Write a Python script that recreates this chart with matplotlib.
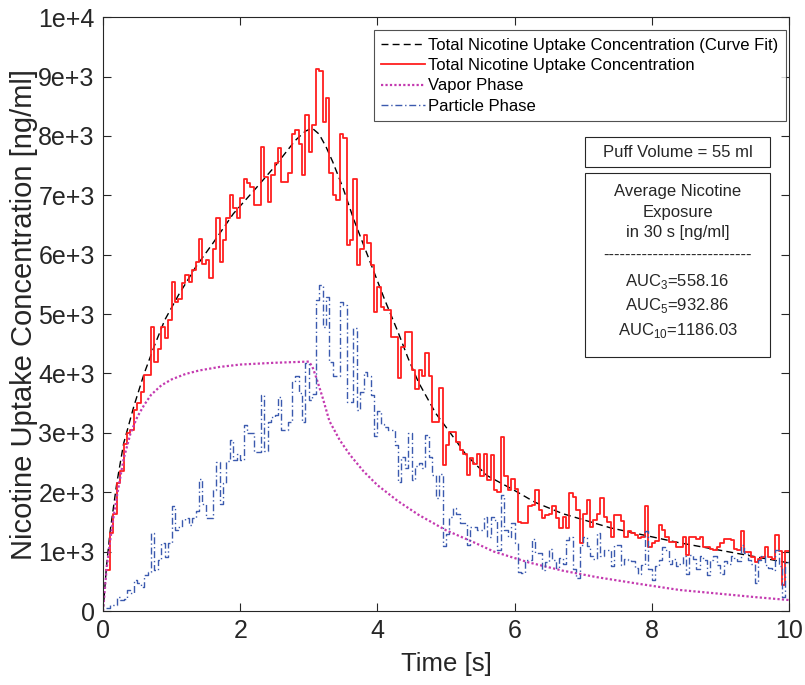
import numpy as np
import matplotlib
matplotlib.use("Agg")
import matplotlib.pyplot as plt
from matplotlib.patches import Rectangle

plt.rcParams['font.family'] = ['Liberation Sans', 'DejaVu Sans']

# measured total uptake (step data, 0.05 s bins)
total_conc = [
    690, 1310, 1640, 2150, 2350, 2820, 2990, 3050, 3390, 3500,
    3690, 3970, 3970, 4790, 4200, 4420, 4790, 4590, 4900, 5540,
    5210, 5260, 5520, 5660, 5540, 5740, 5880, 6270, 5850, 5910,
    5600, 6100, 6610, 5880, 6250, 6610, 7000, 6780, 6610, 6950,
    7280, 7200, 7140, 6840, 6840, 7820, 7310, 6890, 7340, 7540,
    7790, 7230, 7230, 7370, 8040, 8100, 7870, 7340, 8350, 7730,
    8180, 9130, 9100, 8240, 8630, 7370, 7000, 6920, 8040, 7960,
    6160, 6250, 7280, 5830, 6100, 6330, 6190, 5830, 5040, 5460,
    5120, 5070, 5070, 4620, 4620, 3920, 4450, 4700, 4700, 4050,
    3740, 4050, 3950, 4340, 3950, 3190, 3190, 3750, 2460, 2800,
    3020, 3020, 2850, 2710, 2650, 2290, 2570, 2480, 2650, 2270,
    2650, 2200, 2620, 2040, 2000, 2930, 2270, 2040, 2230, 2060,
    1500, 1480, 1480, 1760, 1780, 2040, 1700, 1560, 1620, 1640,
    1760, 1560, 1390, 1590, 1390, 1980, 1920, 1700, 1140, 1640,
    1870, 1420, 1530, 1640, 1900, 1590, 1500, 1250, 1620, 1620,
    1520, 1240, 1350, 1310, 1280, 1230, 1250, 1770, 1080, 1140,
    1180, 1440, 1360, 1250, 1170, 1170, 1080, 1080, 1250, 940,
    1250, 1250, 1220, 1250, 1080, 1080, 1050, 1020, 1080, 1140,
    1220, 1220, 1190, 1050, 1020, 1340, 990, 990, 910, 830,
    880, 910, 1080, 910, 880, 1280, 1010, 440, 1010, 1010,
]

# particle phase (step data, same bins)
particle_conc = [
    50, 100, 100, 240, 180, 200, 350, 300, 520, 470,
    400, 600, 660, 1310, 690, 860, 1140, 915, 1140, 1760,
    1360, 1420, 1530, 1560, 1450, 1560, 1680, 2230, 1810, 1560,
    1560, 2040, 2510, 1810, 2150, 2520, 2880, 2540, 2650, 2540,
    3130, 2990, 2990, 2680, 2680, 3640, 2700, 3190, 3270, 3300,
    3610, 3050, 3050, 3190, 3860, 3950, 3670, 3190, 4170, 3550,
    3660, 5240, 5490, 4790, 5290, 4200, 3950, 3950, 5210, 5150,
    3520, 3520, 4760, 3380, 3690, 4030, 3950, 3640, 2940, 3360,
    3150, 3100, 3050, 3050, 2800, 2180, 2600, 2400, 2990, 2200,
    2450, 2500, 2400, 2960, 2600, 2290, 1900, 2300, 1100, 1300,
    1590, 1730, 1640, 1480, 1480, 1110, 1420, 1420, 1360, 1360,
    1590, 1250, 1590, 1530, 1030, 1950, 1360, 1250, 1480, 1140,
    660, 640, 860, 860, 1220, 980, 980, 690, 830, 1050,
    860, 720, 890, 800, 1200, 1250, 700, 550, 1110, 1250,
    1100, 920, 870, 1310, 920, 1030, 1030, 750, 1110, 1110,
    780, 880, 860, 840, 720, 630, 780, 1340, 700, 520,
    750, 860, 1080, 1030, 800, 880, 750, 800, 920, 630,
    940, 880, 710, 920, 860, 600, 860, 920, 780, 620,
    840, 800, 920, 890, 840, 1110, 970, 860, 800, 470,
    860, 920, 780, 720, 690, 1030, 750, 240, 830, 800,
]
step_time = np.arange(1, len(total_conc) + 1) * 0.05

# curve fit
fit_time = [0, 0.05, 0.1, 0.2, 0.3, 0.45, 0.6, 0.75, 0.9, 1.1, 1.35, 1.6, 1.9,
            2.2, 2.5, 2.8, 2.95, 3.05, 3.15, 3.25, 3.35, 3.5, 3.65, 3.8, 3.95,
            4.1, 4.3, 4.45, 4.6, 4.85, 5.05, 5.3, 5.6, 6.0, 6.3, 6.7, 7.4,
            8.4, 9.2, 10.0]
fit_conc = [0, 750, 1310, 2150, 2820, 3450, 4000, 4470, 4900, 5320, 5790, 6190,
            6690, 7080, 7480, 7920, 8080, 8130, 8030, 7820, 7560, 7120, 6610,
            6160, 5710, 5260, 4700, 4250, 3850, 3330, 3020, 2620, 2280, 2030,
            1830, 1640, 1400, 1150, 980, 810]

# vapor phase
vapor_time = [0, 0.05, 0.1, 0.15, 0.2, 0.3, 0.4, 0.5, 0.6, 0.7, 0.85, 1.0, 1.2,
              1.4, 1.7, 2.0, 2.5, 3.0, 3.05, 3.1, 3.2, 3.3, 3.45, 3.6, 3.8, 4.0,
              4.3, 4.6, 5.0, 5.4, 5.7, 6.2, 6.7, 7.2, 7.8, 8.4, 9.0, 9.5, 10.0]
vapor_conc = [0, 690, 1150, 1560, 1920, 2560, 2990, 3270, 3470, 3640, 3800, 3900,
              3990, 4050, 4110, 4150, 4180, 4200, 4120, 3960, 3600, 3200, 2880,
              2630, 2350, 2120, 1850, 1620, 1360, 1160, 1000, 820, 680, 570, 460,
              355, 290, 235, 185]

x_ticks = [0, 2, 4, 6, 8, 10]
y_ticks = [0, 1000, 2000, 3000, 4000, 5000, 6000, 7000, 8000, 9000, 10000]
y_tick_labels = ['0', '1e+3', '2e+3', '3e+3', '4e+3', '5e+3', '6e+3', '7e+3',
                 '8e+3', '9e+3', '1e+4']

info_lines = ['Average Nicotine', 'Exposure', 'in 30 s [ng/ml]',
              '---------------------------', r'AUC$_\mathregular{3}$=558.16',
              r'AUC$_\mathregular{5}$=932.86', r'AUC$_\mathregular{10}$=1186.03']

txt = '#262626'

fig = plt.figure(figsize=(8.05, 6.85), dpi=100)
ax = fig.add_axes([0.128, 0.108, 0.852, 0.867])

ax.plot(fit_time, fit_conc, color='k', lw=1.0, ls=(0, (5, 3)),
        label='Total Nicotine Uptake Concentration (Curve Fit)')
ax.step(step_time, total_conc, where='post', color='#ff1f1f', lw=1.3,
        label='Total Nicotine Uptake Concentration')
ax.plot(vapor_time, vapor_conc, color='#c43ab0', lw=1.6, ls=(0, (1, 1)),
        label='Vapor Phase')
ax.step(step_time, particle_conc, where='post', color='#3b5aae', lw=1.0,
        ls=(0, (5, 2, 1, 2)), label='Particle Phase')

ax.set_xlim(0, 10)
ax.set_ylim(0, 10000)
ax.set_xticks(x_ticks)
ax.set_xticklabels([str(v) for v in x_ticks])
ax.set_yticks(y_ticks)
ax.set_yticklabels(y_tick_labels)
ax.tick_params(direction='in', top=True, right=True, length=6, width=0.8,
               labelsize=18, colors=txt, pad=6)
for sp in ax.spines.values():
    sp.set_color(txt)
    sp.set_linewidth(0.8)

ax.set_xlabel('Time [s]', fontsize=18.5, color=txt, labelpad=6)
ax.set_ylabel('Nicotine Uptake Concentration [ng/ml]', fontsize=21, color=txt,
              labelpad=0)

leg = ax.legend(loc='upper right', bbox_to_anchor=(0.9956, 0.978),
                borderaxespad=0, fontsize=12, frameon=True, fancybox=False,
                handlelength=2.6, handletextpad=0.2, labelspacing=0.32,
                borderpad=0.45)
leg.get_frame().set_edgecolor(txt)
leg.get_frame().set_linewidth(0.8)

# puff volume box
ax.add_patch(Rectangle((0.7026, 0.7475), 0.2697, 0.0505, transform=ax.transAxes,
                       fill=False, edgecolor=txt, lw=0.8))
ax.text(0.8375, 0.7727, 'Puff Volume = 55 ml', transform=ax.transAxes,
        ha='center', va='center', fontsize=12, color=txt)

# exposure box
ax.add_patch(Rectangle((0.7026, 0.4276), 0.2697, 0.3098, transform=ax.transAxes,
                       fill=False, edgecolor=txt, lw=0.8))
line_y = [191, 212, 232, 255, 281, 305, 330]
for s, py in zip(info_lines, line_y):
    ax.text(0.8375, (611 - py) / 594, s, transform=ax.transAxes,
            ha='center', va='center', fontsize=12, color=txt)

fig.savefig('out.png', dpi=100)
